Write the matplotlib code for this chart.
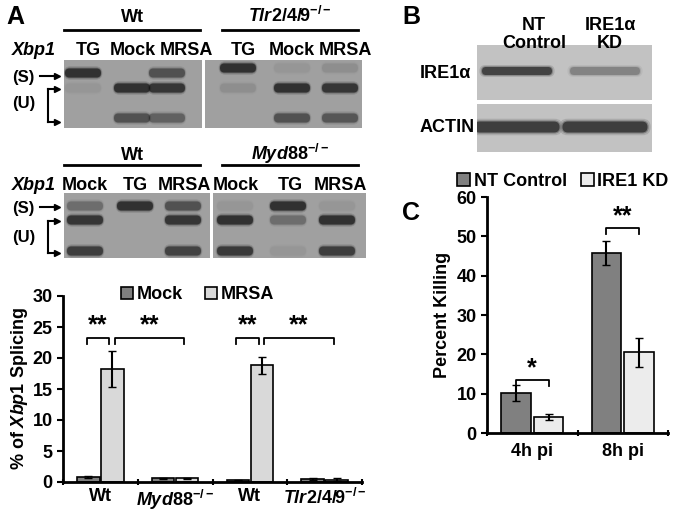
import matplotlib
matplotlib.use("Agg")
import matplotlib.pyplot as plt
from matplotlib.patches import FancyBboxPatch
import numpy as np

plt.rcParams['font.family'] = ['Liberation Sans', 'DejaVu Sans']
plt.rcParams['font.weight'] = 'bold'
plt.rcParams['mathtext.fontset'] = 'custom'
plt.rcParams['mathtext.rm'] = 'Liberation Sans:bold'
plt.rcParams['mathtext.it'] = 'Liberation Sans:italic:bold'
plt.rcParams['mathtext.bf'] = 'Liberation Sans:bold'

W, H = 680, 511
# ---- data ----
a_groups = ['Wt', 'Myd88', 'Wt', 'Tlr2/4/9']
a_mock = [0.8, 0.6, 0.3, 0.5]
a_mock_err = [0.2, 0.1, 0.1, 0.2]
a_mrsa = [18.3, 0.6, 18.8, 0.4]
a_mrsa_err = [2.9, 0.1, 1.3, 0.2]

c_groups = ['4h pi', '8h pi']
c_nt = [10.2, 45.8]
c_nt_err = [2.0, 3.0]
c_kd = [4.1, 20.5]
c_kd_err = [0.8, 3.7]

# gel band intensities: lanes x rows (S, U1, U2)
gel_top_left = [[0.95, 0.05, 0.0], [0.0, 0.95, 0.6], [0.6, 0.9, 0.45]]
gel_top_right = [[0.95, 0.1, 0.0], [0.05, 0.95, 0.6], [0.1, 0.9, 0.55]]
gel_bot_left = [[0.35, 0.9, 0.8], [0.95, 0.0, 0.0], [0.6, 0.9, 0.75]]
gel_bot_right = [[0.05, 0.95, 0.85], [0.95, 0.35, 0.05], [0.05, 0.95, 0.8]]
blot_ire = [0.85, 0.35]
blot_actin = [0.9, 0.9]

fig = plt.figure(figsize=(W/100, H/100), dpi=100)

def ax_px(x0, y0, x1, y1):
    return fig.add_axes([x0/W, 1-y1/H, (x1-x0)/W, (y1-y0)/H])

def T(x, y, s, size=13, **kw):
    fig.text(x/W, 1-y/H, s, fontsize=size, fontweight='bold', **kw)

def hline(x0, x1, y, lw=2):
    fig.add_artist(plt.Line2D([x0/W, x1/W], [1-y/H, 1-y/H], color='black', lw=lw))

def arrow(x0, x1, y):
    fig.add_artist(plt.Line2D([x0/W, x1/W], [1-y/H]*2, color='black', lw=1.5))
    fig.add_artist(plt.Line2D([x1/W], [1-y/H], color='black', marker='>', ms=5))

def gel(x0, y0, x1, y1, lanes, rows, inten, bw=36, bh=9, bg='#a0a0a0'):
    ax = ax_px(x0, y0, x1, y1)
    ax.set_xlim(x0, x1); ax.set_ylim(y1, y0)
    ax.set_facecolor(bg)
    ax.set_xticks([]); ax.set_yticks([])
    for s in ax.spines.values():
        s.set_visible(False)
    for lx, li in zip(lanes, inten):
        for ry, v in zip(rows, li):
            if v <= 0:
                continue
            for k, a in [(1.5, 0.15), (1.2, 0.3), (1.0, 0.65)]:
                w, h = bw*(0.85+0.15*k), bh*k
                ax.add_patch(FancyBboxPatch((lx-w/2, ry-h/2), w, h,
                             boxstyle=f"round,pad=0,rounding_size={h/2}",
                             fc='#101010', ec='none', alpha=a*v))
    return ax

# ---- Panel A gels ----
T(6, 24, 'A', 18)
hline(64, 200, 30); hline(222, 358, 30)
T(132, 22, 'Wt', 13, ha='center')
T(290, 22, r'$\mathit{Tlr2/4/9}^{-/-}$', 13, ha='center')
T(12, 55, 'Xbp1', 13, style='italic')
for x, s in [(88, 'TG'), (133, 'Mock'), (186, 'MRSA'), (243, 'TG'), (292, 'Mock'), (345, 'MRSA')]:
    T(x, 55, s, 13, ha='center')
gel(64, 60, 202, 128, [83, 132, 167], [73, 88, 118], gel_top_left)
gel(205, 60, 362, 128, [238, 292, 340], [68, 88, 118], gel_top_right)
T(12, 82, '(S)', 12); T(12, 108, '(U)', 12)
arrow(40, 57, 76)
arrow(48, 57, 89); arrow(48, 57, 122)
fig.add_artist(plt.Line2D([48/W, 48/W], [1-89/H, 1-122/H], color='black', lw=1.5))

T(132, 160, 'Wt', 13, ha='center')
T(290, 160, r'$\mathit{Myd88}^{-/-}$', 13, ha='center')
hline(64, 200, 165); hline(222, 358, 165)
T(12, 190, 'Xbp1', 13, style='italic')
for x, s in [(85, 'Mock'), (135, 'TG'), (184, 'MRSA'), (236, 'Mock'), (290, 'TG'), (340, 'MRSA')]:
    T(x, 190, s, 13, ha='center')
gel(64, 193, 210, 258, [85, 135, 183], [206, 220, 251], gel_bot_left)
gel(213, 193, 366, 258, [235, 288, 337], [206, 220, 251], gel_bot_right)
T(12, 213, '(S)', 12); T(12, 242, '(U)', 12)
arrow(40, 57, 207)
arrow(48, 57, 221); arrow(48, 57, 253)
fig.add_artist(plt.Line2D([48/W, 48/W], [1-221/H, 1-253/H], color='black', lw=1.5))

# ---- Panel A bar chart ----
ax = ax_px(63, 296, 362, 482)
x = np.arange(len(a_groups))
bw = 0.3
ax.bar(x-0.16, a_mock, bw, yerr=a_mock_err, color='#808080', edgecolor='black', lw=1.2, capsize=3, label='Mock')
ax.bar(x+0.16, a_mrsa, bw, yerr=a_mrsa_err, color='#d9d9d9', edgecolor='black', lw=1.2, capsize=3, label='MRSA')
ax.set_ylim(0, 30); ax.set_xlim(-0.5, 3.5)
ax.set_yticks(range(0, 31, 5))
ax.set_xticks([-0.5, 0.5, 1.5, 2.5, 3.5]); ax.set_xticklabels([])
ax.tick_params(axis='x', length=5, width=1.5, direction='inout')
ax.tick_params(axis='y', labelsize=13, width=1.5, length=4)
for t in ax.get_yticklabels():
    t.set_fontweight('bold')
ax.spines['top'].set_visible(False); ax.spines['right'].set_visible(False)
ax.spines['left'].set_linewidth(2); ax.spines['bottom'].set_linewidth(2)
ax.set_ylabel(r'% of $\mathit{Xbp1}$ Splicing', fontsize=13, fontweight='bold', labelpad=2)
labels = ['Wt', r'$\mathit{Myd88}^{-/-}$', 'Wt', r'$\mathit{Tlr}$2/4/9$^{-/-}$']
for i, l in enumerate(labels):
    ax.text(i, -1.0, l, ha='center', va='top', fontsize=13, fontweight='bold')
ax.legend(loc='upper center', bbox_to_anchor=(0.45, 1.14), ncol=2, frameon=False,
          fontsize=13, handlelength=0.7, handletextpad=0.2, columnspacing=1.2)
def bracket(ax, x0, x1, y, txt, h=1.0):
    ax.plot([x0, x0, x1, x1], [y-h, y, y, y-h], color='black', lw=1.3)
    ax.text((x0+x1)/2, y, txt, ha='center', va='bottom', fontsize=18, fontweight='bold')
bracket(ax, -0.18, 0.12, 23.3, '**')
bracket(ax, 0.19, 1.12, 23.3, '**')
bracket(ax, 1.82, 2.12, 23.3, '**')
bracket(ax, 2.19, 3.12, 23.3, '**')

# ---- Panel B ----
T(402, 24, 'B', 18)
T(534, 30, 'NT', 13, ha='center'); T(534, 48, 'Control', 13, ha='center')
T(610, 30, 'IRE1α', 13, ha='center'); T(610, 48, 'KD', 13, ha='center')
T(420, 78, 'IRE1α', 13)
T(420, 132, 'ACTIN', 13)
gel(477, 45, 652, 100, [517, 605], [71], [[v] for v in blot_ire], bw=70, bh=8, bg='#c2c2c2')
gel(477, 104, 652, 152, [517, 605], [127], [[v] for v in blot_actin], bw=85, bh=11, bg='#c2c2c2')

# ---- Panel C ----
T(402, 220, 'C', 18)
axc = ax_px(487, 197, 668, 433)
xc = np.arange(len(c_groups))
axc.bar(xc-0.18, c_nt, 0.33, yerr=c_nt_err, color='#808080', edgecolor='black', lw=1.2, capsize=3, label='NT Control')
axc.bar(xc+0.18, c_kd, 0.33, yerr=c_kd_err, color='#ececec', edgecolor='black', lw=1.2, capsize=3, label='IRE1 KD')
axc.set_ylim(0, 60); axc.set_xlim(-0.5, 1.5)
axc.set_yticks(range(0, 61, 10))
axc.set_xticks([-0.5, 0.5, 1.5]); axc.set_xticklabels([])
axc.tick_params(axis='x', length=5, width=1.5, direction='inout')
axc.tick_params(axis='y', labelsize=13, width=1.5, length=4)
for t in axc.get_yticklabels():
    t.set_fontweight('bold')
for i, l in enumerate(c_groups):
    axc.text(i, -2.5, l, ha='center', va='top', fontsize=13, fontweight='bold')
axc.spines['top'].set_visible(False); axc.spines['right'].set_visible(False)
axc.spines['left'].set_linewidth(2); axc.spines['bottom'].set_linewidth(2)
axc.set_ylabel('Percent Killing', fontsize=13, fontweight='bold')
axc.legend(loc='upper center', bbox_to_anchor=(0.42, 1.17), ncol=2, frameon=False,
           fontsize=13, handlelength=0.7, handletextpad=0.2, columnspacing=0.8)
bracket(axc, -0.18, 0.18, 13.5, '*', h=1.5)
bracket(axc, 0.82, 1.18, 52.0, '**', h=1.5)

fig.savefig('out.png', dpi=100)
